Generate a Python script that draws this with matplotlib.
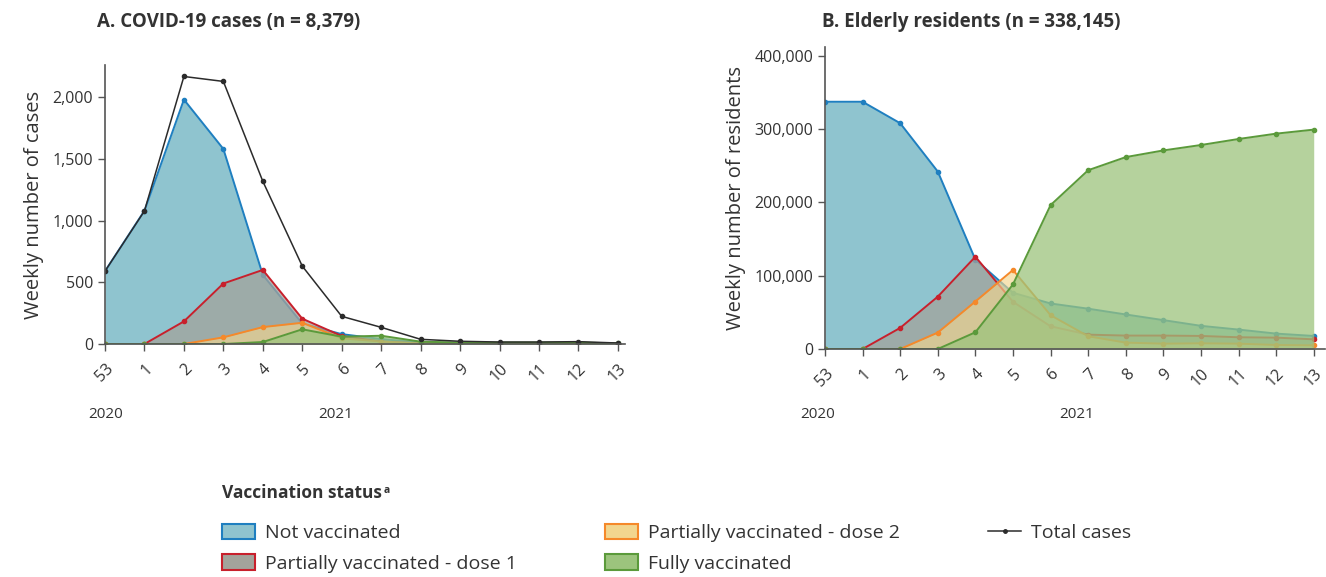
import matplotlib

matplotlib.use("Agg")

import matplotlib.pyplot as plt
from matplotlib.lines import Line2D
from matplotlib.patches import Patch

plt.rcParams["font.family"] = ["Open Sans", "DejaVu Sans"]

# --- data ---
weeks = ["53", "1", "2", "3", "4", "5", "6", "7", "8", "9", "10", "11", "12", "13"]

# Panel A: weekly COVID-19 cases
cases_not_vacc = [590, 1080, 1980, 1580, 560, 165, 80, 40, 12, 6, 4, 4, 4, 2]
cases_dose1 = [0, 0, 183, 490, 600, 205, 65, 20, 5, 3, 3, 3, 3, 2]
cases_dose2 = [0, 0, 0, 54, 137, 172, 46, 20, 3, 1, 1, 1, 1, 1]
cases_full = [0, 0, 0, 0, 16, 119, 59, 67, 19, 12, 12, 12, 12, 5]
cases_total = [590, 1078, 2167, 2127, 1318, 631, 224, 135, 38, 22, 16, 16, 19, 8]

# Panel B: weekly number of elderly residents
res_not_vacc = [337300, 337300, 308000, 242100, 122000, 76700, 62100, 55000,
                47100, 39400, 31600, 26500, 21000, 17800]
res_dose1 = [0, 0, 28800, 71400, 125900, 64400, 31000, 19600, 18300, 18300,
             17800, 16000, 15500, 13200]
res_dose2 = [0, 0, 0, 22400, 64800, 107800, 46100, 17400, 8700, 7300, 7800,
             7300, 5500, 5000]
res_full = [0, 0, 0, 0, 22800, 88100, 196300, 243900, 261800, 270900, 278300,
            286500, 293800, 299300]

status_labels = ["Not vaccinated", "Partially vaccinated - dose 1",
                 "Partially vaccinated - dose 2", "Fully vaccinated"]
edge_colors = ["#1f7fc0", "#c8202c", "#f5892a", "#5b9a3b"]
fill_colors = ["#8fc4cf", "#a3a39b", "#f2d68e", "#9cc47d"]
fill_alpha = [1.0, 0.75, 0.65, 0.75]

TEXT = "#333333"
SPINE = "#555555"

fig = plt.figure(figsize=(13.26, 5.77), dpi=100)
W, H = 1326, 577


def px_axes(x0, y0, x1, y1):
    """Axes from pixel box (left, top, right, bottom)."""
    return fig.add_axes([x0 / W, 1 - y1 / H, (x1 - x0) / W, (y1 - y0) / H])


def draw_panel(ax, series, total=None):
    x = list(range(len(weeks)))
    for i, vals in enumerate(series):
        z = 2 + i * 2
        ax.fill_between(x, 0, vals, color=fill_colors[i], alpha=fill_alpha[i],
                        lw=0, zorder=z)
        ax.plot(x, vals, color=edge_colors[i], lw=1.4, marker="o", ms=3,
                zorder=z + 1)
    if total is not None:
        ax.plot(x, total, color="#2b2b2b", lw=1.1, marker="o", ms=3, zorder=20)
    ax.set_xticks(x)
    ax.set_xticklabels(weeks, rotation=45, ha="right", rotation_mode="anchor",
                       fontsize=11, color=TEXT)
    for s in ("top", "right"):
        ax.spines[s].set_visible(False)
    for s in ("left", "bottom"):
        ax.spines[s].set_color(SPINE)
        ax.spines[s].set_linewidth(1.2)
        ax.spines[s].set_zorder(30)
    ax.tick_params(axis="both", colors=SPINE, labelcolor=TEXT, length=5,
                   width=1, labelsize=11.5)
    ax.tick_params(axis="x", pad=7)


# Panel A
axA = px_axes(105, 65, 625, 344)
draw_panel(axA, [cases_not_vacc, cases_dose1, cases_dose2, cases_full],
           total=cases_total)
axA.set_xlim(0, 13.18)
axA.set_ylim(0, 2260)
axA.set_yticks([0, 500, 1000, 1500, 2000])
axA.set_yticklabels(["0", "500", "1,000", "1,500", "2,000"])
axA.set_ylabel("Weekly number of cases", fontsize=14.5, color=TEXT, labelpad=6)

# Panel B
axB = px_axes(825, 47, 1325, 349)
draw_panel(axB, [res_not_vacc, res_dose1, res_dose2, res_full])
axB.set_xlim(0, 13.3)
axB.set_ylim(0, 412000)
axB.set_yticks([0, 100000, 200000, 300000, 400000])
axB.set_yticklabels(["0", "100,000", "200,000", "300,000", "400,000"])
axB.set_ylabel("Weekly number of residents", fontsize=14.5, color=TEXT,
               labelpad=6)

# Titles
fig.text(97 / W, 1 - 22 / H, "A. COVID-19 cases (n = 8,379)", fontsize=13.5,
         fontweight="bold", color=TEXT, va="center", ha="left")
fig.text(822 / W, 1 - 22 / H, "B. Elderly residents (n = 338,145)", fontsize=13.5,
         fontweight="bold", color=TEXT, va="center", ha="left")

# Year labels
for xp, yr in [(106, "2020"), (336, "2021"), (818, "2020"), (1077, "2021")]:
    fig.text(xp / W, 1 - 415 / H, yr, fontsize=11, color=TEXT, ha="center",
             va="center")

# Legend
leg_title = fig.text(222 / W, 1 - 493 / H, "Vaccination status", fontsize=12.5,
                     fontweight="bold", color=TEXT, ha="left", va="center")
axA.annotate("a", xy=(1, 1), xycoords=leg_title, xytext=(1.5, -1),
             textcoords="offset points", fontsize=7.5, fontweight="bold",
             color=TEXT, ha="left", va="top", annotation_clip=False)

handles = [Patch(facecolor=fill_colors[i], edgecolor=edge_colors[i], lw=1.5)
           for i in range(4)]
handles.append(Line2D([], [], color="#2b2b2b", lw=1.1, marker="o", ms=2.5))
labels = status_labels + ["Total cases"]
fig.legend(handles, labels, loc="upper left",
           bbox_to_anchor=(214 / W, 1 - 516 / H), ncol=3, frameon=False,
           fontsize=14, labelcolor=TEXT, handlelength=1.7, handleheight=0.85,
           handletextpad=0.5, columnspacing=4.55, labelspacing=0.62,
           borderaxespad=0)

fig.savefig("out.png", dpi=100, facecolor="white")
